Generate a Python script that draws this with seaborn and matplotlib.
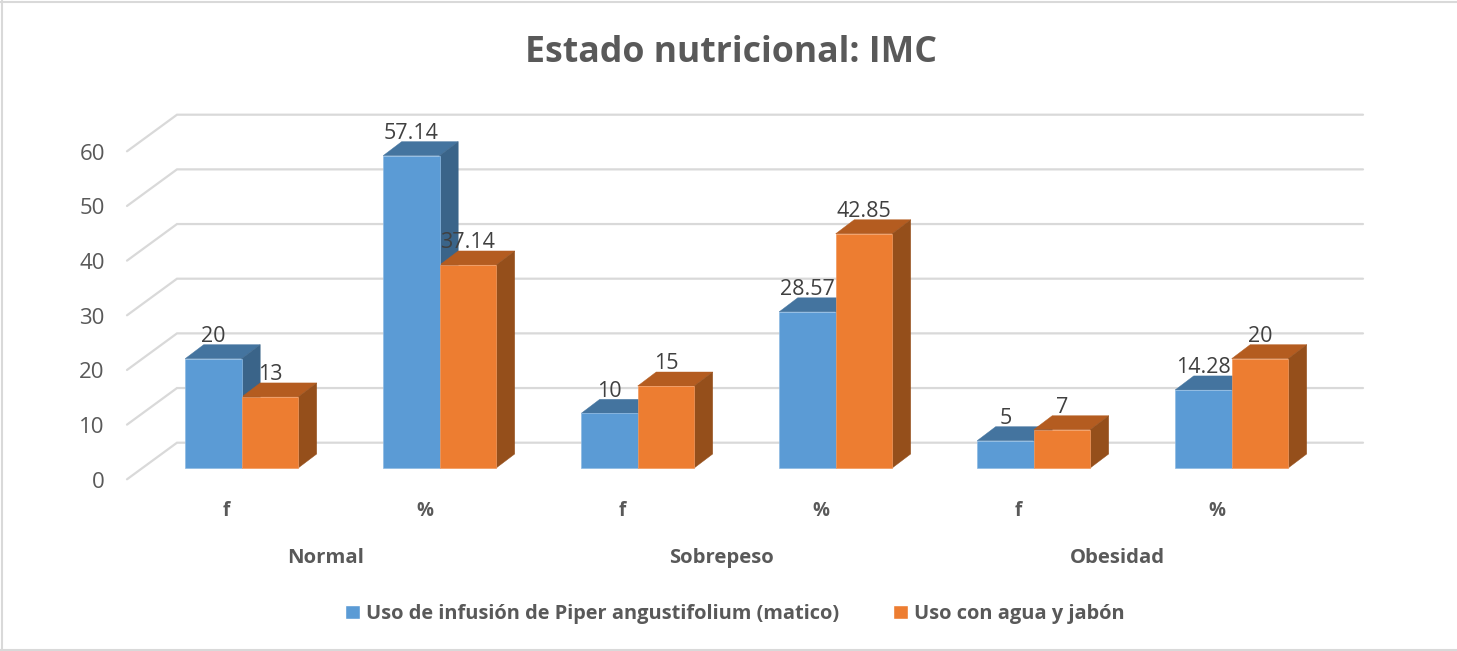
import matplotlib
matplotlib.use("Agg")
import matplotlib.pyplot as plt
import matplotlib.transforms as mtrans
from matplotlib.lines import Line2D
from matplotlib.patches import Polygon
import pandas as pd
import seaborn as sns

# ---- data ----
groups = ["Normal", "Sobrepeso", "Obesidad"]
measures = ["f", "%"]
series_a = "Uso de infusión de Piper angustifolium (matico)"
series_b = "Uso con agua y jabón"
values_a = [20, 57.14, 10, 28.57, 5, 14.28]
values_b = [13, 37.14, 15, 42.85, 7, 20]
labels_a = ["20", "57.14", "10", "28.57", "5", "14.28"]
labels_b = ["13", "37.14", "15", "42.85", "7", "20"]
y_ticks = [0, 10, 20, 30, 40, 50, 60]
title = "Estado nutricional: IMC"

# ---- style ----
W, H, DPI = 1457, 651, 100
sns.set_theme(style="white")
plt.rcParams["font.family"] = ["Open Sans", "DejaVu Sans"]
GREY = "#595959"
GRID = "#d9d9d9"
FRONT = {"a": "#5b9bd5", "b": "#ed7d31"}
TOP = {"a": "#44749f", "b": "#b45c20"}
SIDE = {"a": "#3a6489", "b": "#954f1b"}
EDGE = {"a": "#8dbae3", "b": "#f2985c"}

fig = plt.figure(figsize=(W / DPI, H / DPI), dpi=DPI, facecolor="white")
# axes = front plane of the 3D box
x0, x1, ybase, ytop = 127, 1313, 468, 140
ax = fig.add_axes([x0 / W, (H - ybase) / H, (x1 - x0) / W, (ybase - ytop) / H])

keys = [f"{g} {m}" for g in groups for m in measures]
df = pd.DataFrame({
    "cat": keys * 2,
    "val": values_a + values_b,
    "serie": [series_a] * 6 + [series_b] * 6,
})
PX_X = 198.0
PX_Y = (ybase - ytop) / 60.0
sns.barplot(data=df, x="cat", y="val", hue="serie", order=keys,
            hue_order=[series_a, series_b],
            palette=[FRONT["a"], FRONT["b"]], saturation=1,
            width=113 / PX_X, gap=0, dodge=True, ax=ax, zorder=4, errorbar=None)

xmin = (x0 - 241.7) / PX_X
xmax = (x1 - 241.7) / PX_X
ax.set_xlim(xmin, xmax)
ax.set_ylim(0, 60)
ax.set_xlabel("")
ax.set_ylabel("")
for s in ax.spines.values():
    s.set_visible(False)

# gridlines on floor/side wall and back wall
for v in y_ticks:
    ax.plot([xmin, xmin + 50 / PX_X, xmin + 1236 / PX_X],
            [v - 11.3 / PX_Y, v + 25.3 / PX_Y, v + 25.3 / PX_Y],
            color=GRID, lw=1.6, clip_on=False, zorder=1, solid_joinstyle="miter")

# 3D depth faces
DX, DY = 18.5 / PX_X, 14 / PX_Y
for cont, k, labs, z in zip(ax.containers, "ab", [labels_a, labels_b], [2, 3]):
    for bar in cont:
        l, w, h = bar.get_x(), bar.get_width(), bar.get_height()
        r = l + w
        bar.set_edgecolor(EDGE[k])
        bar.set_linewidth(0.5)
        bar.set_clip_on(False)
        ax.add_patch(Polygon([(l, h), (r, h), (r + DX, h + DY), (l + DX, h + DY)],
                             closed=True, facecolor=TOP[k], edgecolor=TOP[k],
                             lw=0.3, clip_on=False, zorder=z))
        ax.add_patch(Polygon([(r, 0), (r + DX, DY), (r + DX, h + DY), (r, h)],
                             closed=True, facecolor=SIDE[k], edgecolor=SIDE[k],
                             lw=0.3, clip_on=False, zorder=z))
    ax.bar_label(cont, labels=labs, padding=8.5, fontsize=15.5, color="#404040",
                 zorder=6, clip_on=False)

# y axis labels sit on the front edge of the floor
ax.set_yticks(y_ticks)
ax.tick_params(axis="y", length=0, pad=16, labelsize=16, labelcolor=GREY)
down = mtrans.ScaledTranslation(0, -11.8 / DPI, fig.dpi_scale_trans)
for t in ax.get_yticklabels():
    t.set_transform(t.get_transform() + down)

# x axis labels, two levels
left = mtrans.ScaledTranslation(-15 / DPI, 0, fig.dpi_scale_trans)
ax.set_xticks(range(len(keys)))
ax.set_xticklabels(measures * len(groups))
ax.tick_params(axis="x", length=0, pad=23.5, labelsize=13.5, labelcolor=GREY)
for t in ax.get_xticklabels():
    t.set_fontweight("bold")
    t.set_transform(t.get_transform() + left)

sec = ax.secondary_xaxis("bottom")
sec.set_xticks([0.5, 2.5, 4.5])
sec.set_xticklabels(groups)
sec.tick_params(axis="x", length=0, pad=57.5, labelsize=14.6, labelcolor=GREY)
sec.spines["bottom"].set_visible(False)
for t in sec.get_xticklabels():
    t.set_fontweight("bold")
    t.set_transform(t.get_transform() + left)

# legend
sns.move_legend(ax, "center", bbox_to_anchor=(734.5 / W, (H - 614) / H),
                bbox_transform=fig.transFigure, ncol=2, frameon=False, title=None,
                handlelength=0.75, handleheight=0.7, handletextpad=0.3,
                columnspacing=2.7, labelcolor=GREY, prop={"weight": "bold", "size": 14.4},
                borderpad=0)

fig.text(731 / W, (H - 53.5) / H, title, ha="center", va="center",
         fontsize=25.7, fontweight="bold", color=GREY)

# chart frame: top, left and bottom edges only
for xs, ys in [((0, 1), (1 - 2 / H, 1 - 2 / H)),
               ((2 / W, 2 / W), (0, 1)),
               ((0, 1), (1 / H, 1 / H))]:
    fig.add_artist(Line2D(xs, ys, transform=fig.transFigure, color=GRID, lw=1.5))

fig.savefig("out.png", dpi=DPI)
